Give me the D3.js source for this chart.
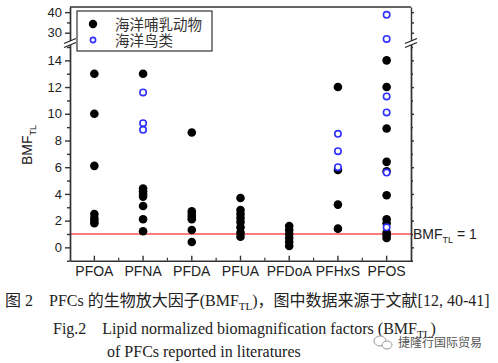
<!DOCTYPE html>
<html><head><meta charset="utf-8">
<script src="https://cdn.jsdelivr.net/npm/d3@7"></script>
<style>
html,body{margin:0;padding:0;background:#fff;}
svg{display:block;}
</style></head>
<body><svg id="chart" width="498" height="363"></svg>
<script>
// ---- data ----
const categories = ["PFOA","PFNA","PFDA","PFUA","PFDoA","PFHxS","PFOS"];
const mammalValues = [
  [13, 10, 6.1, 2.5, 2.2, 2.0, 1.8],
  [13, 4.4, 4.2, 4.0, 3.8, 3.1, 2.1, 1.2],
  [8.6, 2.7, 2.5, 2.3, 2.1, 1.3, 0.4],
  [3.7, 2.8, 2.5, 2.2, 1.9, 1.5, 1.1, 0.8],
  [1.6, 1.3, 1.0, 0.7, 0.4, 0.1],
  [12, 5.8, 3.2, 1.4],
  [14, 12, 8.9, 6.4, 5.7, 3.9, 2.1, 1.8, 1.1, 0.9, 0.7]
];
const birdValues = [
  [], [11.6, 9.3, 8.8], [], [], [], [8.5, 7.2, 6.0],
  [38.7, 27, 11.3, 10.1, 5.6, 1.5]
];
const seriesNames = ["海洋哺乳动物", "海洋鸟类"];
const lowerTicks = [0, 2, 4, 6, 8, 10, 12, 14];
const lowerMinor = [-1, 1, 3, 5, 7, 9, 11, 13, 15];
const upperTicks = [30, 40];
const upperMinor = [35];
const refValue = 1;
const refLabel = "BMF";
const yTitle = "BMF";
const captionLine1 = ["图 2\u2003PFCs 的生物放大因子(BMF", "TL", ")，图中数据来源于文献[12, 40-41]"];
const captionLine2 = ["Fig.2\u2003Lipid normalized biomagnification factors (BMF", "TL", ")"];
const captionLine3 = "of PFCs reported in literatures";
const watermark = "捷隆行国际贸易";

// ---- layout ----
const L = 70, R = 411, T = 7, B = 260.7, BRK = 43;
const svg = d3.select("#chart");
const axisColor = "#333";
const sans = "Liberation Sans, Arial, sans-serif";
const cjk = "'Noto Sans CJK SC', sans-serif";
const serif = "'Liberation Serif', 'Times New Roman', 'Noto Sans CJK SC', serif";

const x = d3.scaleBand().domain(categories).range([L, R]);
const yLow = d3.scaleLinear().domain([-1, 15.3]).range([B, BRK]);
const yHigh = d3.scaleLinear().domain([25, 42.5]).range([BRK, T]);
const yv = v => v > 20 ? yHigh(v) : yLow(v);
const cx = c => x(c) + x.bandwidth() / 2;

// reference line
svg.append("line")
  .attr("x1", L).attr("x2", R)
  .attr("y1", yLow(refValue)).attr("y2", yLow(refValue))
  .attr("stroke", "#ff5050").attr("stroke-width", 1.6);
const rl = svg.append("text").attr("x", R + 2).attr("y", yLow(refValue) + 5)
  .attr("font-family", sans).attr("font-size", 14).attr("fill", "#222");
rl.append("tspan").text(refLabel);
rl.append("tspan").attr("font-size", 9).attr("dy", 4).text("TL");
rl.append("tspan").attr("dy", -4).text(" = 1");

// axes
function styleAxis(g) {
  g.selectAll("path,line").attr("stroke", axisColor).attr("stroke-width", 1.4);
  g.selectAll("text").attr("fill", "#222").attr("font-family", sans).attr("font-size", 13);
}
// left
svg.append("g").attr("transform", `translate(${L},0)`)
  .call(d3.axisLeft(yLow).tickValues(lowerTicks).tickSize(5).tickSizeOuter(0).tickPadding(3)).call(styleAxis);
svg.append("g").attr("transform", `translate(${L},0)`)
  .call(d3.axisLeft(yLow).tickValues(lowerMinor).tickSize(3).tickSizeOuter(0).tickFormat("")).call(styleAxis);
svg.append("g").attr("transform", `translate(${L},0)`)
  .call(d3.axisLeft(yHigh).tickValues(upperTicks).tickSize(5).tickSizeOuter(0).tickPadding(3)).call(styleAxis);
svg.append("g").attr("transform", `translate(${L},0)`)
  .call(d3.axisLeft(yHigh).tickValues(upperMinor).tickSize(3).tickSizeOuter(0).tickFormat("")).call(styleAxis);
// right
svg.append("g").attr("transform", `translate(${R},0)`)
  .call(d3.axisRight(yLow).tickValues(lowerTicks).tickSize(3).tickSizeOuter(0).tickFormat("")).call(styleAxis);
svg.append("g").attr("transform", `translate(${R},0)`)
  .call(d3.axisRight(yLow).tickValues(lowerMinor).tickSize(2).tickSizeOuter(0).tickFormat("")).call(styleAxis);
svg.append("g").attr("transform", `translate(${R},0)`)
  .call(d3.axisRight(yHigh).tickValues(upperTicks.concat(upperMinor)).tickSize(3).tickSizeOuter(0).tickFormat("")).call(styleAxis);
// bottom
const bx = svg.append("g").attr("transform", `translate(0,${B})`)
  .call(d3.axisBottom(x).tickSize(-5).tickSizeOuter(0).tickPadding(5)).call(styleAxis);
bx.selectAll("text").attr("font-size", 14);
svg.append("g").attr("class", "bminor").selectAll("line")
  .data(d3.range(1, categories.length))
  .join("line")
  .attr("x1", i => L + x.step() * i).attr("x2", i => L + x.step() * i)
  .attr("y1", B).attr("y2", B - 3)
  .attr("stroke", axisColor).attr("stroke-width", 1.2);
// top frame
svg.append("line").attr("x1", L).attr("x2", R).attr("y1", T).attr("y2", T)
  .attr("stroke", axisColor).attr("stroke-width", 1.6);

// breaks
[L, R].forEach(ax => {
  svg.append("rect").attr("x", ax - 2).attr("y", BRK - 2).attr("width", 4).attr("height", 4).attr("fill", "#fff");
  [-2, 2].forEach(o => {
    svg.append("line")
      .attr("x1", ax - 6).attr("y1", BRK + o + 2.5)
      .attr("x2", ax + 6).attr("y2", BRK + o - 2.5)
      .attr("stroke", "#222").attr("stroke-width", 1.3);
  });
});

// y title
const yt = svg.append("text")
  .attr("transform", `translate(32,145) rotate(-90)`)
  .attr("text-anchor", "middle")
  .attr("font-family", sans).attr("font-size", 14).attr("fill", "#222");
yt.append("tspan").text(yTitle);
yt.append("tspan").attr("font-size", 9).attr("dy", 4).text("TL");

// data points
const mammalPts = categories.flatMap((c, i) => mammalValues[i].map(v => ({c, v})));
const birdPts = categories.flatMap((c, i) => birdValues[i].map(v => ({c, v})));
svg.append("g").selectAll("circle").data(mammalPts).join("circle")
  .attr("cx", d => cx(d.c)).attr("cy", d => yv(d.v)).attr("r", 4.3).attr("fill", "#000");
svg.append("g").selectAll("circle").data(birdPts).join("circle")
  .attr("cx", d => cx(d.c)).attr("cy", d => yv(d.v)).attr("r", 3.2)
  .attr("fill", "#fff").attr("stroke", "#2f2fff").attr("stroke-width", 1.6);

// legend
const lg = svg.append("g");
lg.append("rect").attr("x", 77).attr("y", 11).attr("width", 135).attr("height", 40)
  .attr("fill", "#fff").attr("stroke", "#333").attr("stroke-width", 1.2);
lg.append("circle").attr("cx", 93).attr("cy", 24).attr("r", 4.2).attr("fill", "#000");
lg.append("circle").attr("cx", 93).attr("cy", 40).attr("r", 2.6)
  .attr("fill", "#fff").attr("stroke", "#2f2fff").attr("stroke-width", 1.6);
seriesNames.forEach((n, i) => {
  lg.append("text").attr("x", 115).attr("y", 29.5 + i * 16)
    .attr("font-family", cjk).attr("font-size", 14.5).attr("fill", "#333").text(n);
});

// caption
function cap(parts, xx, yy) {
  const t = svg.append("text").attr("x", xx).attr("y", yy)
    .attr("font-family", serif).attr("font-size", 16).attr("fill", "#222");
  t.append("tspan").text(parts[0]);
  t.append("tspan").attr("font-size", 11).attr("dy", 4).text(parts[1]);
  t.append("tspan").attr("dy", -4).text(parts[2]);
  return t;
}
cap(captionLine1, 5, 306);
cap(captionLine2, 53, 334);
svg.append("text").attr("x", 107).attr("y", 357)
  .attr("font-family", serif).attr("font-size", 16).attr("fill", "#222").text(captionLine3);

// watermark
const wm = svg.append("g");
wm.append("ellipse").attr("cx", 380).attr("cy", 341).attr("rx", 6).attr("ry", 5)
  .attr("fill", "#fff").attr("stroke", "#999").attr("stroke-width", 1);
wm.append("ellipse").attr("cx", 387).attr("cy", 345).attr("rx", 5).attr("ry", 4)
  .attr("fill", "#fff").attr("stroke", "#999").attr("stroke-width", 1);
wm.append("text").attr("x", 398).attr("y", 347)
  .attr("font-family", cjk).attr("font-size", 12).attr("fill", "#555").text(watermark);
</script>
</body></html>
